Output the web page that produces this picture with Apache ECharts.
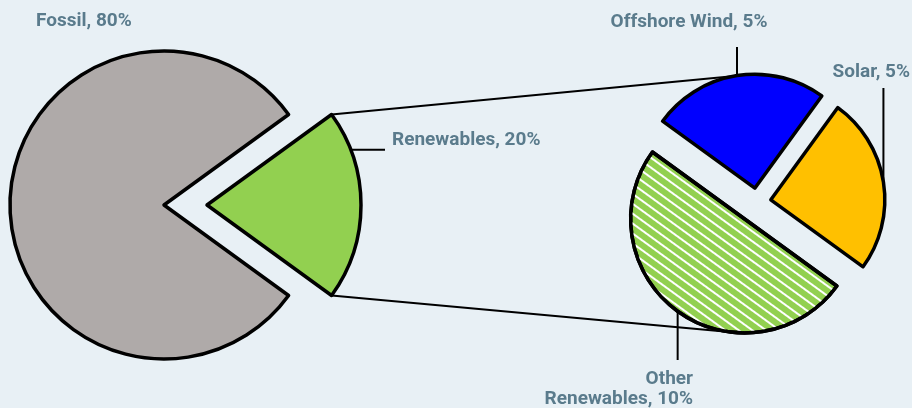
<!DOCTYPE html>
<html>
<head>
<meta charset="UTF-8">
<title>Renewables share</title>
<script src="https://cdn.jsdelivr.net/npm/echarts@6/dist/echarts.min.js"></script>
<style>
  html, body { margin: 0; padding: 0; background: #e8f0f5; }
  #chart { width: 912px; height: 408px; }
</style>
</head>
<body>
<div id="chart"></div>
<script>
// energy mix, % of total
var mixNames = ['Renewables', 'Fossil'];
var mixValues = [20, 80];
// split of the renewables slice, % of total
var renNames = ['Offshore Wind', 'Solar', 'Other Renewables'];
var renValues = [5, 5, 10];

var mixColors = ['#92d050', '#afaaa9'];
var renColors = ['#0000ff', '#ffc000', '#92d050'];

// pie geometry (pixels / degrees), offset = explode distance per slice
var LEFT = { cx: 164, cy: 205, r: 154, start: 36, offset: [43, 0] };
var RIGHT = { cx: 757, cy: 202, r: 114, start: 144, offset: [14, 14, 21] };

// label boxes and leader lines
var leftLabels = [
  { x: 392, y: 140, align: 'left', lineAngle: 21, lineX: 385 },
  { x: 36, y: 21, align: 'left' }
];
var rightLabels = [
  { x: 689, y: 22, align: 'center', lineY: 47 },
  { x: 910, y: 72, align: 'right', lineY: 88 },
  { x: 693, y: 389, align: 'right', lineY: 360, wrap: true }
];

var textColor = '#5a7b8c';
var labelStyle = {
  color: textColor,
  fontFamily: "Roboto, 'Liberation Sans', sans-serif",
  fontWeight: 'bold',
  fontSize: 19,
  lineHeight: 20
};

function sliceAngles(values, start) {
  var sum = values.reduce(function (a, b) { return a + b; }, 0);
  var acc = start;
  return values.map(function (v) {
    var a0 = acc, a1 = acc - v / sum * 360;
    acc = a1;
    return { a0: a0, a1: a1, mid: (a0 + a1) / 2 };
  });
}

// centre of slice i after it is pulled out
function sliceCenter(pie, angles, i) {
  var m = angles[i].mid * Math.PI / 180;
  var off = pie.offset[i] || 0;
  return [pie.cx + off * Math.cos(m), pie.cy - off * Math.sin(m)];
}

function rimPoint(pie, angles, i, ang) {
  var c = sliceCenter(pie, angles, i);
  var a = ang * Math.PI / 180;
  return [c[0] + pie.r * Math.cos(a), c[1] - pie.r * Math.sin(a)];
}

var leftAng = sliceAngles(mixValues, LEFT.start);
var rightAng = sliceAngles(renValues, RIGHT.start);

// one series per slice so each can sit at its own exploded centre
function sliceSeries(pie, angles, names, values, colors, labels, k) {
  return {
    type: 'pie',
    center: sliceCenter(pie, angles, k),
    radius: pie.r,
    startAngle: pie.start,
    clockwise: true,
    avoidLabelOverlap: false,
    animation: false,
    silent: true,
    emphasis: { disabled: true },
    itemStyle: { borderColor: '#000', borderWidth: 3.5 },
    label: Object.assign({
      show: true,
      position: 'outside',
      formatter: function (p) {
        var name = labels[p.dataIndex].wrap ? p.name.replace(' ', '\n') : p.name;
        return name + ', ' + p.value + '%';
      }
    }, labelStyle),
    labelLine: { show: true, lineStyle: { color: '#000', width: 2 } },
    labelLayout: function (p) {
      var s = labels[p.dataIndex];
      var out = { x: s.x, y: s.y, align: s.align, verticalAlign: 'middle' };
      if (s.lineX != null) {
        var a = rimPoint(pie, angles, p.dataIndex, s.lineAngle);
        out.labelLinePoints = [a, [s.lineX, a[1]], [s.lineX, a[1]]];
      } else if (s.lineY != null) {
        var b = rimPoint(pie, angles, p.dataIndex, angles[p.dataIndex].mid);
        out.labelLinePoints = [b, [b[0], s.lineY], [b[0], s.lineY]];
      }
      return out;
    },
    data: names.map(function (n, i) {
      var item = { name: n, value: values[i] };
      if (i !== k) {
        item.itemStyle = { color: 'rgba(0,0,0,0)', borderWidth: 0 };
        item.label = { show: false };
        item.labelLine = { show: false };
        return item;
      }
      item.itemStyle = { color: colors[i] };
      item.labelLine = { show: labels[i].lineX != null || labels[i].lineY != null };
      if (n === 'Other Renewables') {
        item.itemStyle.decal = {
          symbol: 'rect',
          symbolSize: 1,
          dashArrayX: [1, 0],
          dashArrayY: [1.6, 5.1],
          rotation: Math.PI / 5,
          color: '#ffffff'
        };
      }
      return item;
    })
  };
}

var series = [];
mixNames.forEach(function (n, k) {
  series.push(sliceSeries(LEFT, leftAng, mixNames, mixValues, mixColors, leftLabels, k));
});
renNames.forEach(function (n, k) {
  series.push(sliceSeries(RIGHT, rightAng, renNames, renValues, renColors, rightLabels, k));
});

// connectors from the renewables slice to the breakdown pie
var topA = rimPoint(LEFT, leftAng, 0, leftAng[0].a0);
var botA = rimPoint(LEFT, leftAng, 0, leftAng[0].a1);
var topB = rimPoint(RIGHT, rightAng, 0, 100);
var botB = rimPoint(RIGHT, rightAng, 2, -92);

var chart = echarts.init(document.getElementById('chart'));
chart.setOption({
  backgroundColor: '#e8f0f5',
  graphic: [
    { type: 'polyline', z: 0, shape: { points: [topA, topB] }, style: { stroke: '#000', lineWidth: 2, fill: null } },
    { type: 'polyline', z: 0, shape: { points: [botA, botB] }, style: { stroke: '#000', lineWidth: 2, fill: null } }
  ],
  series: series
});
</script>
</body>
</html>
